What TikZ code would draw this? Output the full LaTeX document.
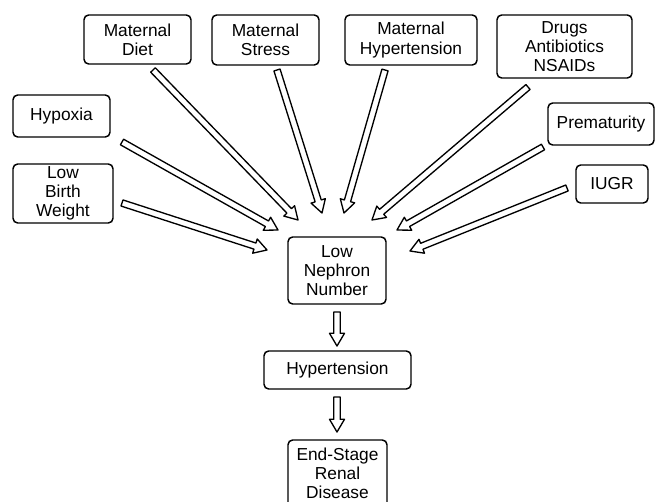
\documentclass[tikz,border=0pt]{standalone}
\usepackage{fontspec}
\setmainfont{Liberation Sans}
\usetikzlibrary{calc}
\newcommand\hwid{2.4pt}
\newcommand\hhead{5.6pt}
\newcommand\hlen{9.5pt}
\newcommand\harrow[2]{%
  \coordinate (hb) at ($(#2)!\hlen!(#1)$);
  \filldraw[harrowline]
    ($(#1)!\hwid!90:(hb)$) -- ($(hb)!\hwid!-90:(#1)$) -- ($(hb)!\hhead!-90:(#1)$)
    -- (#2) -- ($(hb)!\hhead!90:(#1)$) -- ($(hb)!\hwid!90:(#1)$)
    -- ($(#1)!\hwid!-90:(hb)$) -- cycle;}
\tikzset{
  box/.style={draw, line width=1.1pt, rounded corners=3.5pt, align=center,
    inner sep=0pt, font=\fontsize{13pt}{14.3pt}\selectfont},
  harrowline/.style={draw=black, fill=white, line width=1pt, line join=round}
}
\begin{document}
\begin{tikzpicture}[x=0.75pt,y=-0.75pt]
\useasboundingbox (0,0) rectangle (658,502);
\clip (0,0) rectangle (658,502);
\node[box, minimum width=107*0.75pt, minimum height=49*0.75pt] (diet) at (137.5,39.5) {Maternal\\Diet};
\node[box, minimum width=107*0.75pt, minimum height=50*0.75pt] (stress) at (265.5,40) {Maternal\\Stress};
\node[box, minimum width=132*0.75pt, minimum height=50*0.75pt] (mhyp) at (411,40) {Maternal\\Hypertension};
\node[box, minimum width=135*0.75pt, minimum height=63*0.75pt] (drugs) at (564.5,46.5) {Drugs\\Antibiotics\\NSAIDs};
\node[box, minimum width=97*0.75pt, minimum height=42*0.75pt] (hypoxia) at (61.5,116) {Hypoxia};
\node[box, minimum width=100*0.75pt, minimum height=59*0.75pt] (lbw) at (63,193.5) {Low\\Birth\\Weight};
\node[box, minimum width=106*0.75pt, minimum height=42*0.75pt] (prem) at (601,124) {Prematurity};
\node[box, minimum width=72*0.75pt, minimum height=38*0.75pt] (iugr) at (612,184) {IUGR};
\node[box, minimum width=98*0.75pt, minimum height=67*0.75pt] (lnn) at (337,270.5) {Low\\Nephron\\Number};
\node[box, minimum width=147*0.75pt, minimum height=38*0.75pt] (hyp) at (337.5,370) {Hypertension};
\node[box, minimum width=99*0.75pt, minimum height=67*0.75pt] (esrd) at (337.5,473.5) {End-Stage\\Renal\\Disease};

\coordinate (diet-out) at (153,70);    \coordinate (lnn-in1) at (298,220);
\coordinate (stress-out) at (277,70);  \coordinate (lnn-in2) at (322,213);
\coordinate (mhyp-out) at (385,70);    \coordinate (lnn-in3) at (344,213);
\coordinate (drugs-out) at (528,87);   \coordinate (lnn-in4) at (372,220);
\coordinate (hypoxia-out) at (122,142);\coordinate (lnn-in5) at (278,230);
\coordinate (lbw-out) at (122,203);    \coordinate (lnn-in6) at (267,250);
\coordinate (prem-out) at (543,147);   \coordinate (lnn-in7) at (397,230);
\coordinate (iugr-out) at (567,188);   \coordinate (lnn-in8) at (410,251);
\coordinate (lnn-out) at (337,312);    \coordinate (hyp-in) at (337,346);
\coordinate (hyp-out) at (337,397);    \coordinate (esrd-in) at (337,432);

\harrow{diet-out}{lnn-in1}
\harrow{stress-out}{lnn-in2}
\harrow{mhyp-out}{lnn-in3}
\harrow{drugs-out}{lnn-in4}
\harrow{hypoxia-out}{lnn-in5}
\harrow{lbw-out}{lnn-in6}
\harrow{prem-out}{lnn-in7}
\harrow{iugr-out}{lnn-in8}
\harrow{lnn-out}{hyp-in}
\harrow{hyp-out}{esrd-in}
\end{tikzpicture}
\end{document}
